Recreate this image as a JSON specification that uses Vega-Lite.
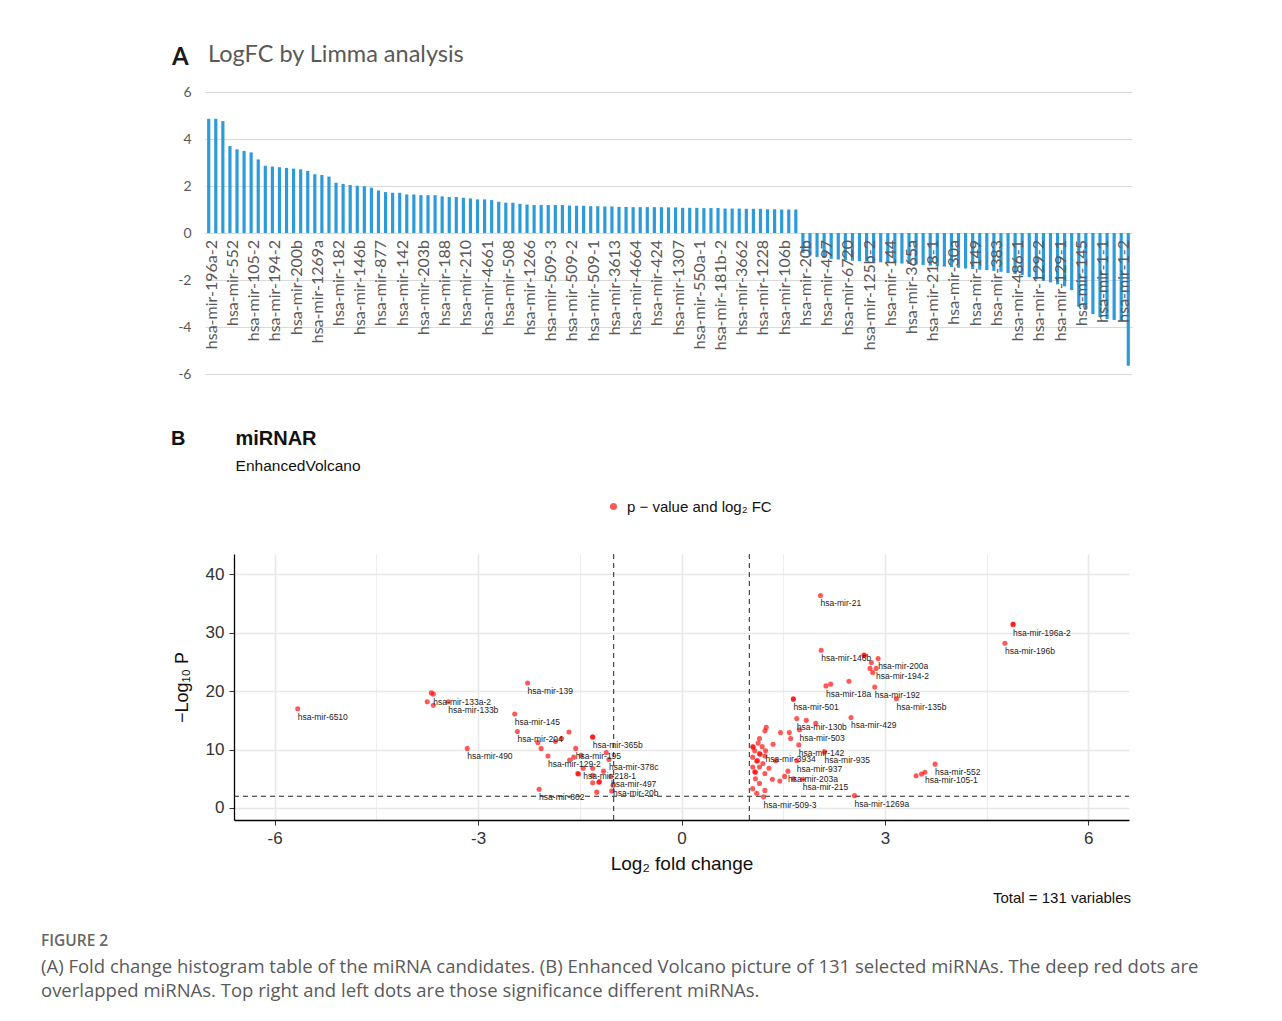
{
  "$schema": "https://vega.github.io/schema/vega-lite/v6.json",
  "background": "white",
  "padding": {"left": 41, "top": 43, "right": 5, "bottom": 5},
  "autosize": {"type": "pad"},
  "config": {"view": {"stroke": null}},
  "resolve": {"legend": {"color": "independent"}, "scale": {"color": "independent"}},
  "title": {
    "text": "FIGURE 2",
    "subtitle": [
      "(A) Fold change histogram table of the miRNA candidates. (B) Enhanced Volcano picture of 131 selected miRNAs. The deep red dots are",
      "overlapped miRNAs. Top right and left dots are those significance different miRNAs."
    ],
    "orient": "bottom",
    "anchor": "start",
    "frame": "bounds",
    "dx": -130,
    "offset": 28,
    "font": "Open Sans",
    "fontSize": 15.5,
    "fontWeight": 600,
    "color": "#666666",
    "subtitleFont": "Open Sans",
    "subtitleFontSize": 18.5,
    "subtitleColor": "#5a5a5a",
    "subtitleLineHeight": 24,
    "subtitlePadding": 8
  },
  "spacing": 47,
  "vconcat": [
    {
      "width": 927,
      "height": 282,
      "title": {
        "text": "A",
        "subtitle": "\u200b\u00a0\u00a0\u00a0\u00a0\u00a0\u00a0LogFC by Limma analysis",
        "anchor": "start",
        "frame": "group",
        "dx": -33,
        "offset": 12,
        "font": "Lato",
        "fontSize": 24,
        "fontWeight": "bold",
        "color": "#1a1a1a",
        "subtitleFont": "Lato",
        "subtitleFontSize": 23.5,
        "subtitleColor": "#595959",
        "subtitlePadding": -27
      },
      "data": {"values": [
        {"rank":1,"logFC":4.86,"name":"hsa-mir-196a-2"},{"rank":2,"logFC":4.86,"name":""},{"rank":3,"logFC":4.76,"name":""},
        {"rank":4,"logFC":3.70,"name":"hsa-mir-552"},{"rank":5,"logFC":3.56,"name":""},{"rank":6,"logFC":3.49,"name":""},
        {"rank":7,"logFC":3.43,"name":"hsa-mir-105-2"},{"rank":8,"logFC":3.13,"name":""},{"rank":9,"logFC":2.86,"name":""},
        {"rank":10,"logFC":2.83,"name":"hsa-mir-194-2"},{"rank":11,"logFC":2.80,"name":""},{"rank":12,"logFC":2.77,"name":""},
        {"rank":13,"logFC":2.74,"name":"hsa-mir-200b"},{"rank":14,"logFC":2.71,"name":""},{"rank":15,"logFC":2.64,"name":""},
        {"rank":16,"logFC":2.50,"name":"hsa-mir-1269a"},{"rank":17,"logFC":2.47,"name":""},{"rank":18,"logFC":2.40,"name":""},
        {"rank":19,"logFC":2.14,"name":"hsa-mir-182"},{"rank":20,"logFC":2.09,"name":""},{"rank":21,"logFC":2.04,"name":""},
        {"rank":22,"logFC":2.01,"name":"hsa-mir-146b"},{"rank":23,"logFC":1.99,"name":""},{"rank":24,"logFC":1.93,"name":""},
        {"rank":25,"logFC":1.81,"name":"hsa-mir-877"},{"rank":26,"logFC":1.74,"name":""},{"rank":27,"logFC":1.71,"name":""},
        {"rank":28,"logFC":1.71,"name":"hsa-mir-142"},{"rank":29,"logFC":1.64,"name":""},{"rank":30,"logFC":1.64,"name":""},
        {"rank":31,"logFC":1.61,"name":"hsa-mir-203b"},{"rank":32,"logFC":1.61,"name":""},{"rank":33,"logFC":1.61,"name":""},
        {"rank":34,"logFC":1.56,"name":"hsa-mir-188"},{"rank":35,"logFC":1.53,"name":""},{"rank":36,"logFC":1.53,"name":""},
        {"rank":37,"logFC":1.50,"name":"hsa-mir-210"},{"rank":38,"logFC":1.47,"name":""},{"rank":39,"logFC":1.43,"name":""},
        {"rank":40,"logFC":1.43,"name":"hsa-mir-4661"},{"rank":41,"logFC":1.40,"name":""},{"rank":42,"logFC":1.33,"name":""},
        {"rank":43,"logFC":1.29,"name":"hsa-mir-508"},{"rank":44,"logFC":1.29,"name":""},{"rank":45,"logFC":1.24,"name":""},
        {"rank":46,"logFC":1.21,"name":"hsa-mir-1266"},{"rank":47,"logFC":1.19,"name":""},{"rank":48,"logFC":1.19,"name":""},
        {"rank":49,"logFC":1.19,"name":"hsa-mir-509-3"},{"rank":50,"logFC":1.19,"name":""},{"rank":51,"logFC":1.19,"name":""},
        {"rank":52,"logFC":1.17,"name":"hsa-mir-509-2"},{"rank":53,"logFC":1.16,"name":""},{"rank":54,"logFC":1.16,"name":""},
        {"rank":55,"logFC":1.14,"name":"hsa-mir-509-1"},{"rank":56,"logFC":1.14,"name":""},{"rank":57,"logFC":1.13,"name":""},
        {"rank":58,"logFC":1.13,"name":"hsa-mir-3613"},{"rank":59,"logFC":1.11,"name":""},{"rank":60,"logFC":1.11,"name":""},
        {"rank":61,"logFC":1.10,"name":"hsa-mir-4664"},{"rank":62,"logFC":1.10,"name":""},{"rank":63,"logFC":1.10,"name":""},
        {"rank":64,"logFC":1.10,"name":"hsa-mir-424"},{"rank":65,"logFC":1.10,"name":""},{"rank":66,"logFC":1.09,"name":""},
        {"rank":67,"logFC":1.09,"name":"hsa-mir-1307"},{"rank":68,"logFC":1.07,"name":""},{"rank":69,"logFC":1.07,"name":""},
        {"rank":70,"logFC":1.07,"name":"hsa-mir-550a-1"},{"rank":71,"logFC":1.06,"name":""},{"rank":72,"logFC":1.06,"name":""},
        {"rank":73,"logFC":1.06,"name":"hsa-mir-181b-2"},{"rank":74,"logFC":1.04,"name":""},{"rank":75,"logFC":1.04,"name":""},
        {"rank":76,"logFC":1.04,"name":"hsa-mir-3662"},{"rank":77,"logFC":1.03,"name":""},{"rank":78,"logFC":1.03,"name":""},
        {"rank":79,"logFC":1.03,"name":"hsa-mir-1228"},{"rank":80,"logFC":1.01,"name":""},{"rank":81,"logFC":1.01,"name":""},
        {"rank":82,"logFC":1.00,"name":"hsa-mir-106b"},{"rank":83,"logFC":1.00,"name":""},{"rank":84,"logFC":1.00,"name":""},
        {"rank":85,"logFC":-0.85,"name":"hsa-mir-20b"},{"rank":86,"logFC":-0.95,"name":""},{"rank":87,"logFC":-1.02,"name":""},
        {"rank":88,"logFC":-1.06,"name":"hsa-mir-497"},{"rank":89,"logFC":-1.10,"name":""},{"rank":90,"logFC":-1.13,"name":""},
        {"rank":91,"logFC":-1.16,"name":"hsa-mir-6720"},{"rank":92,"logFC":-1.18,"name":""},{"rank":93,"logFC":-1.20,"name":""},
        {"rank":94,"logFC":-1.21,"name":"hsa-mir-125b-2"},{"rank":95,"logFC":-1.23,"name":""},{"rank":96,"logFC":-1.25,"name":""},
        {"rank":97,"logFC":-1.27,"name":"hsa-mir-144"},{"rank":98,"logFC":-1.28,"name":""},{"rank":99,"logFC":-1.30,"name":""},
        {"rank":100,"logFC":-1.32,"name":"hsa-mir-365a"},{"rank":101,"logFC":-1.34,"name":""},{"rank":102,"logFC":-1.36,"name":""},
        {"rank":103,"logFC":-1.39,"name":"hsa-mir-218-1"},{"rank":104,"logFC":-1.41,"name":""},{"rank":105,"logFC":-1.43,"name":""},
        {"rank":106,"logFC":-1.45,"name":"hsa-mir-30a"},{"rank":107,"logFC":-1.48,"name":""},{"rank":108,"logFC":-1.51,"name":""},
        {"rank":109,"logFC":-1.53,"name":"hsa-mir-149"},{"rank":110,"logFC":-1.56,"name":""},{"rank":111,"logFC":-1.58,"name":""},
        {"rank":112,"logFC":-1.61,"name":"hsa-mir-383"},{"rank":113,"logFC":-1.65,"name":""},{"rank":114,"logFC":-1.70,"name":""},
        {"rank":115,"logFC":-1.75,"name":"hsa-mir-486-1"},{"rank":116,"logFC":-1.80,"name":""},{"rank":117,"logFC":-1.88,"name":""},
        {"rank":118,"logFC":-1.97,"name":"hsa-mir-129-2"},{"rank":119,"logFC":-2.03,"name":""},{"rank":120,"logFC":-2.10,"name":""},
        {"rank":121,"logFC":-2.18,"name":"hsa-mir-129-1"},{"rank":122,"logFC":-2.27,"name":""},{"rank":123,"logFC":-2.43,"name":""},
        {"rank":124,"logFC":-3.14,"name":"hsa-mir-145"},{"rank":125,"logFC":-3.25,"name":""},{"rank":126,"logFC":-3.45,"name":""},
        {"rank":127,"logFC":-3.58,"name":"hsa-mir-1-1"},{"rank":128,"logFC":-3.66,"name":""},{"rank":129,"logFC":-3.70,"name":""},
        {"rank":130,"logFC":-3.74,"name":"hsa-mir-1-2"},{"rank":131,"logFC":-5.65,"name":""}
      ]},
      "layer": [
        {
          "mark": {"type": "bar", "color": "#2D9AD9"},
          "encoding": {
            "x": {"field": "rank", "type": "ordinal", "axis": null,
                  "scale": {"paddingInner": 0.55, "paddingOuter": 0.3}},
            "y": {"field": "logFC", "type": "quantitative",
                  "scale": {"domain": [-6, 6], "nice": false},
                  "axis": {"values": [-6, -4, -2, 0, 2, 4, 6], "grid": true, "gridColor": "#D9D9D9",
                           "domain": false, "ticks": false, "title": null,
                           "labelFont": "Lato", "labelFontSize": 14, "labelColor": "#595959", "labelPadding": 14,
                           "labelExpr": "datum.value < 0 ? '-' + abs(datum.value) : '' + datum.value"}}
          }
        },
        {
          "transform": [{"filter": "datum.name != ''"}],
          "mark": {"type": "text", "angle": 270, "align": "right", "baseline": "middle", "dx": -7, "dy": 3,
                   "font": "Lato", "fontSize": 16, "color": "#595959"},
          "encoding": {
            "x": {"field": "rank", "type": "ordinal"},
            "y": {"datum": 0},
            "text": {"field": "name"}
          }
        }
      ]
    },
    {
      "width": 924,
      "height": 266,
      "title": {
        "text": "B\u00a0\u00a0\u00a0\u00a0\u00a0\u00a0\u00a0\u00a0\u00a0miRNAR",
        "subtitle": "\u200b\u00a0\u00a0\u00a0\u00a0\u00a0\u00a0\u00a0\u00a0\u00a0\u00a0\u00a0\u00a0\u00a0\u00a0\u00a0EnhancedVolcano",
        "anchor": "start",
        "frame": "group",
        "dx": -34,
        "offset": 25,
        "font": "Liberation Sans",
        "fontSize": 20,
        "fontWeight": "bold",
        "color": "#111111",
        "subtitleFont": "Liberation Sans",
        "subtitleFontSize": 15.5,
        "subtitleColor": "#111111",
        "subtitlePadding": 10
      },
      "resolve": {"legend": {"color": "independent"}},
      "layer": [
        {
          "data": {"values": [{"cut": -1}, {"cut": 1}]},
          "mark": {"type": "rule", "strokeDash": [5, 4], "color": "#222222", "strokeWidth": 1},
          "encoding": {"x": {"field": "cut", "type": "quantitative"}}
        },
        {
          "data": {"values": [{"pcut": 2}]},
          "mark": {"type": "rule", "strokeDash": [5, 4], "color": "#222222", "strokeWidth": 1},
          "encoding": {"y": {"field": "pcut", "type": "quantitative"}, "x": {"datum": -6.6}, "x2": {"datum": 6.6}}
        },
        {
          "data": {"values": [
            {"lfc":-5.66,"nlp":17.0,"label":"hsa-mir-6510"},
            {"lfc":-3.69,"nlp":19.7,"label":""},
            {"lfc":-3.66,"nlp":19.5,"label":"hsa-mir-133a-2"},
            {"lfc":-3.75,"nlp":18.2,"label":""},
            {"lfc":-3.66,"nlp":17.6,"label":""},
            {"lfc":-3.44,"nlp":18.2,"label":"hsa-mir-133b"},
            {"lfc":-2.27,"nlp":21.4,"label":"hsa-mir-139"},
            {"lfc":-2.46,"nlp":16.1,"label":"hsa-mir-145"},
            {"lfc":-2.42,"nlp":13.1,"label":"hsa-mir-204"},
            {"lfc":-1.66,"nlp":13.0,"label":""},
            {"lfc":-3.16,"nlp":10.2,"label":"hsa-mir-490"},
            {"lfc":-2.12,"nlp":11.2,"label":""},
            {"lfc":-2.07,"nlp":10.2,"label":""},
            {"lfc":-1.86,"nlp":11.4,"label":""},
            {"lfc":-1.77,"nlp":11.9,"label":""},
            {"lfc":-1.97,"nlp":8.9,"label":"hsa-mir-129-2"},
            {"lfc":-1.56,"nlp":10.2,"label":"hsa-mir-195"},
            {"lfc":-1.31,"nlp":12.2,"label":""},
            {"lfc":-1.31,"nlp":12.1,"label":"hsa-mir-365b"},
            {"lfc":-1.11,"nlp":9.5,"label":""},
            {"lfc":-1.48,"nlp":9.0,"label":""},
            {"lfc":-1.65,"nlp":8.2,"label":""},
            {"lfc":-1.59,"nlp":8.7,"label":""},
            {"lfc":-1.07,"nlp":8.3,"label":"hsa-mir-378c"},
            {"lfc":-1.45,"nlp":6.8,"label":"hsa-mir-218-1"},
            {"lfc":-1.31,"nlp":6.8,"label":""},
            {"lfc":-1.15,"nlp":6.3,"label":""},
            {"lfc":-1.53,"nlp":5.9,"label":""},
            {"lfc":-1.52,"nlp":5.8,"label":""},
            {"lfc":-1.31,"nlp":5.6,"label":""},
            {"lfc":-1.04,"nlp":5.4,"label":"hsa-mir-497"},
            {"lfc":-1.22,"nlp":4.4,"label":""},
            {"lfc":-1.21,"nlp":4.5,"label":""},
            {"lfc":-1.31,"nlp":4.3,"label":""},
            {"lfc":-1.01,"nlp":3.9,"label":"hsa-mir-20b"},
            {"lfc":-1.25,"nlp":2.7,"label":""},
            {"lfc":-1.03,"nlp":2.9,"label":""},
            {"lfc":-2.10,"nlp":3.2,"label":"hsa-mir-802"},
            {"lfc":2.05,"nlp":36.4,"label":"hsa-mir-21"},
            {"lfc":2.06,"nlp":27.0,"label":"hsa-mir-146b"},
            {"lfc":2.69,"nlp":26.2,"label":""},
            {"lfc":2.70,"nlp":26.1,"label":""},
            {"lfc":2.90,"nlp":25.6,"label":"hsa-mir-200a"},
            {"lfc":2.80,"nlp":24.9,"label":""},
            {"lfc":2.78,"nlp":23.9,"label":""},
            {"lfc":2.87,"nlp":23.9,"label":"hsa-mir-194-2"},
            {"lfc":2.82,"nlp":23.2,"label":""},
            {"lfc":2.20,"nlp":21.2,"label":""},
            {"lfc":2.13,"nlp":20.9,"label":"hsa-mir-18a"},
            {"lfc":2.47,"nlp":21.7,"label":""},
            {"lfc":2.85,"nlp":20.7,"label":"hsa-mir-192"},
            {"lfc":3.17,"nlp":18.7,"label":"hsa-mir-135b"},
            {"lfc":1.65,"nlp":18.7,"label":""},
            {"lfc":1.65,"nlp":18.6,"label":"hsa-mir-501"},
            {"lfc":1.70,"nlp":15.3,"label":"hsa-mir-130b"},
            {"lfc":2.50,"nlp":15.5,"label":"hsa-mir-429"},
            {"lfc":1.84,"nlp":15.0,"label":""},
            {"lfc":1.98,"nlp":14.5,"label":""},
            {"lfc":1.74,"nlp":13.4,"label":"hsa-mir-503"},
            {"lfc":1.25,"nlp":13.8,"label":""},
            {"lfc":1.23,"nlp":13.2,"label":""},
            {"lfc":1.46,"nlp":12.9,"label":""},
            {"lfc":1.59,"nlp":12.9,"label":""},
            {"lfc":1.61,"nlp":11.9,"label":""},
            {"lfc":1.15,"nlp":11.9,"label":""},
            {"lfc":1.13,"nlp":11.1,"label":""},
            {"lfc":1.35,"nlp":10.9,"label":""},
            {"lfc":1.73,"nlp":10.8,"label":"hsa-mir-142"},
            {"lfc":1.05,"nlp":10.5,"label":""},
            {"lfc":1.06,"nlp":10.4,"label":""},
            {"lfc":1.19,"nlp":10.5,"label":""},
            {"lfc":1.24,"nlp":9.8,"label":"hsa-mir-3934"},
            {"lfc":1.08,"nlp":9.8,"label":""},
            {"lfc":1.15,"nlp":9.3,"label":""},
            {"lfc":1.16,"nlp":9.2,"label":""},
            {"lfc":2.11,"nlp":9.6,"label":"hsa-mir-935"},
            {"lfc":1.05,"nlp":8.7,"label":""},
            {"lfc":1.23,"nlp":8.9,"label":""},
            {"lfc":1.11,"nlp":8.0,"label":""},
            {"lfc":1.12,"nlp":8.1,"label":""},
            {"lfc":1.20,"nlp":7.6,"label":""},
            {"lfc":1.39,"nlp":8.1,"label":""},
            {"lfc":1.70,"nlp":8.1,"label":"hsa-mir-937"},
            {"lfc":1.05,"nlp":7.0,"label":""},
            {"lfc":1.15,"nlp":7.0,"label":""},
            {"lfc":1.29,"nlp":6.8,"label":""},
            {"lfc":1.57,"nlp":6.3,"label":"hsa-mir-203a"},
            {"lfc":1.08,"nlp":6.2,"label":""},
            {"lfc":1.09,"nlp":6.1,"label":""},
            {"lfc":1.23,"nlp":5.9,"label":""},
            {"lfc":1.52,"nlp":5.4,"label":""},
            {"lfc":1.34,"nlp":4.9,"label":""},
            {"lfc":1.45,"nlp":4.6,"label":""},
            {"lfc":1.65,"nlp":5.0,"label":""},
            {"lfc":1.79,"nlp":4.9,"label":"hsa-mir-215"},
            {"lfc":1.09,"nlp":5.0,"label":""},
            {"lfc":1.15,"nlp":4.2,"label":""},
            {"lfc":1.05,"nlp":3.3,"label":""},
            {"lfc":1.23,"nlp":3.0,"label":""},
            {"lfc":1.11,"nlp":2.5,"label":""},
            {"lfc":1.21,"nlp":1.9,"label":"hsa-mir-509-3"},
            {"lfc":2.55,"nlp":2.1,"label":"hsa-mir-1269a"},
            {"lfc":3.74,"nlp":7.5,"label":"hsa-mir-552"},
            {"lfc":3.46,"nlp":5.5,"label":""},
            {"lfc":3.54,"nlp":5.8,"label":""},
            {"lfc":3.59,"nlp":6.1,"label":"hsa-mir-105-1"},
            {"lfc":4.89,"nlp":31.5,"label":""},
            {"lfc":4.89,"nlp":31.4,"label":"hsa-mir-196a-2"},
            {"lfc":4.77,"nlp":28.2,"label":"hsa-mir-196b"}
          ]},
          "layer": [
            {
              "mark": {"type": "point", "shape": "circle", "filled": true, "size": 26, "opacity": 0.65},
              "encoding": {
                "x": {"field": "lfc", "type": "quantitative",
                      "scale": {"domain": [-6.6, 6.6], "nice": false, "zero": false, "range": [29, 924]},
                      "axis": {"values": [-6, -4.5, -3, -1.5, 0, 1.5, 3, 4.5, 6],
                               "grid": true, "gridColor": "#E8E8E8",
                               "gridWidth": {"condition": {"test": "datum.value % 3 === 0", "value": 1.6}, "value": 0.8},
                               "tickOpacity": {"condition": {"test": "datum.value % 3 === 0", "value": 1}, "value": 0},
                               "labelExpr": "datum.value % 3 === 0 ? (datum.value < 0 ? '-' + abs(datum.value) : '' + datum.value) : ''",
                               "domainColor": "#000000", "domainWidth": 1.3, "tickColor": "#333333", "tickSize": 5,
                               "labelFont": "Liberation Sans", "labelFontSize": 17, "labelColor": "#333333", "labelPadding": 5,
                               "title": "Log\u2082 fold change", "titleFont": "Liberation Sans", "titleFontSize": 19,
                               "titleFontWeight": "normal", "titleColor": "#111111", "titlePadding": 8}},
                "y": {"field": "nlp", "type": "quantitative",
                      "scale": {"domain": [-2.07, 43.5], "nice": false, "zero": false},
                      "axis": {"values": [0, 5, 10, 15, 20, 25, 30, 35, 40], "offset": -29,
                               "grid": true, "gridColor": "#E8E8E8",
                               "gridWidth": {"condition": {"test": "datum.value % 10 === 0", "value": 1.6}, "value": 0.8},
                               "tickOpacity": {"condition": {"test": "datum.value % 10 === 0", "value": 1}, "value": 0},
                               "labelExpr": "datum.value % 10 === 0 ? '' + datum.value : ''",
                               "domainColor": "#000000", "domainWidth": 1.3, "tickColor": "#333333", "tickSize": 5,
                               "labelFont": "Liberation Sans", "labelFontSize": 17, "labelColor": "#333333", "labelPadding": 5,
                               "title": "\u2212Log\u2081\u2080 P", "titleFont": "Liberation Sans", "titleFontSize": 18,
                               "titleFontWeight": "normal", "titleColor": "#111111", "titlePadding": 14}},
                "color": {"datum": "p \u2212 value and log\u2082 FC", "type": "nominal",
                          "scale": {"range": ["#FF0000"]},
                          "legend": {"orient": "none", "legendX": 401, "legendY": -55, "title": null, "padding": 0,
                                     "labelFont": "Liberation Sans", "labelFontSize": 15, "labelColor": "#111111",
                                     "symbolType": "circle", "symbolSize": 50, "symbolOpacity": 0.65, "symbolStrokeWidth": 0,
                                     "labelOffset": 6}}
              }
            },
            {
              "transform": [{"filter": "datum.label != ''"}],
              "mark": {"type": "text", "align": "left", "baseline": "middle", "dy": 8,
                       "font": "Liberation Sans", "fontSize": 8.5, "color": "#222222"},
              "encoding": {
                "x": {"field": "lfc", "type": "quantitative"},
                "y": {"field": "nlp", "type": "quantitative"},
                "text": {"field": "label"}
              }
            }
          ]
        },
        {
          "data": {"values": [{"note": "Total = 131 variables"}]},
          "mark": {"type": "text", "align": "right", "baseline": "middle", "dx": 2,
                   "font": "Liberation Sans", "fontSize": 15, "color": "#111111"},
          "encoding": {
            "x": {"datum": 6.6},
            "y": {"datum": -15.5},
            "text": {"field": "note"}
          }
        }
      ]
    }
  ]
}
